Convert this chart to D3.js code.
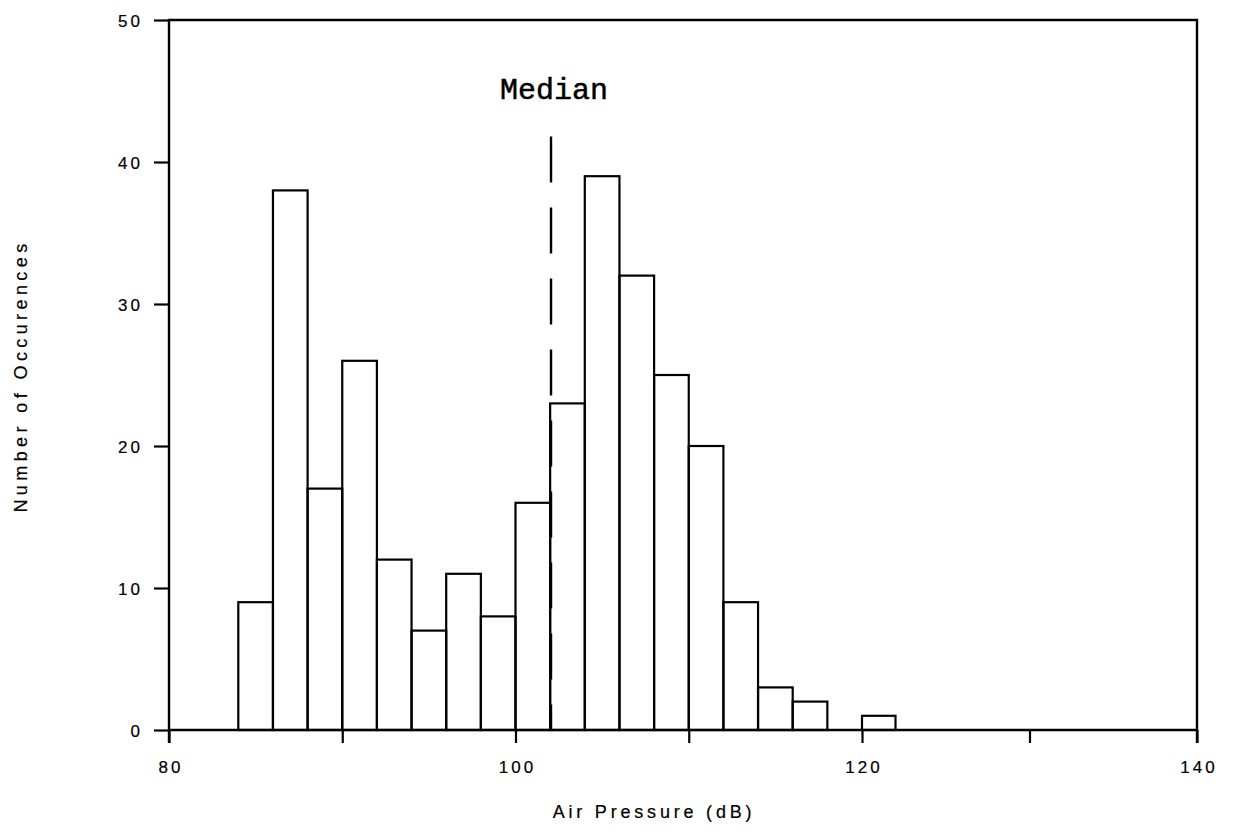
<!DOCTYPE html>
<html>
<head>
<meta charset="utf-8">
<script src="https://cdn.jsdelivr.net/npm/d3@7"></script>
<style>
  body { margin: 0; background: #fff; }
  svg { display: block; }
  text { font-family: "Liberation Sans", Arial, sans-serif; fill: #000; stroke: #000; stroke-width: 0.2px; }
</style>
</head>
<body>
<svg width="1237" height="834"></svg>
<script>
// histogram bins (dB), 2 dB wide
var binStarts = [84, 86, 88, 90, 92, 94, 96, 98, 100, 102, 104, 106, 108, 110, 112, 114, 116, 118, 120];
var counts    = [ 9, 38, 17, 26, 12,  7, 11,  8,  16,  23,  39,  32,  25,  20,   9,   3,   2,   0,   1];
var binWidth = 2;

var xTicks = [80, 90, 100, 110, 120, 130, 140];
var xLabels = [80, 100, 120, 140];
var yTicks = [0, 10, 20, 30, 40, 50];

var median = 102.05;
var medianTop = 41.8;

var svg = d3.select("svg");

// the scanned axis is a little squeezed past 120
var scaleX = d3.scaleLinear()
               .domain([80, 120, 140])
               .range([169, 862, 1197]);

var scaleY = d3.scaleLinear()
               .domain([0, 50])
               .range([730, 20]);

// bars
svg.append("g")
   .selectAll("rect")
   .data(binStarts.map(function(d, i) { return { x0: d, n: counts[i] }; }).filter(function(d) { return d.n > 0; }))
   .enter()
   .append("rect")
   .attr("x", function(d) { return scaleX(d.x0); })
   .attr("y", function(d) { return scaleY(d.n); })
   .attr("width", function(d) { return scaleX(d.x0 + binWidth) - scaleX(d.x0); })
   .attr("height", function(d) { return scaleY(0) - scaleY(d.n); })
   .attr("fill", "none")
   .attr("stroke", "#000")
   .attr("stroke-width", 2.2);

// x axis
var xAxis = svg.append("g")
   .attr("transform", "translate(0," + scaleY(0) + ")")
   .call(d3.axisBottom(scaleX)
           .tickValues(xTicks)
           .tickSizeInner(13)
           .tickSizeOuter(0)
           .tickFormat(function(d) { return xLabels.indexOf(d) >= 0 ? d : ""; }));
xAxis.select(".domain").remove();
xAxis.selectAll("line").attr("stroke-width", 2.2);
xAxis.selectAll("text")
     .attr("y", 43).attr("dy", 0)
     .attr("dx", 1.5)
     .attr("font-size", 17)
     .attr("letter-spacing", 3)
     .style("font-family", "Liberation Sans, Arial, sans-serif");

// y axis
var yAxis = svg.append("g")
   .attr("transform", "translate(" + scaleX(80) + ",0)")
   .call(d3.axisLeft(scaleY)
           .tickValues(yTicks)
           .tickSizeInner(15)
           .tickSizeOuter(0));
yAxis.select(".domain").remove();
yAxis.selectAll("line").attr("stroke-width", 2.2);
yAxis.selectAll("text")
     .attr("x", -26).attr("dy", "0.36em")
     .attr("font-size", 17)
     .attr("letter-spacing", 3)
     .style("font-family", "Liberation Sans, Arial, sans-serif");

// frame
var frame = d3.path();
frame.moveTo(scaleX(80), scaleY(0) + 13);
frame.lineTo(scaleX(80), scaleY(50));
frame.lineTo(scaleX(140), scaleY(50));
frame.lineTo(scaleX(140), scaleY(0) + 13);
frame.moveTo(scaleX(80), scaleY(0));
frame.lineTo(scaleX(140), scaleY(0));
svg.append("path")
   .attr("d", frame.toString())
   .attr("fill", "none")
   .attr("stroke", "#000")
   .attr("stroke-width", 2.4);

// median line
svg.append("line")
   .attr("x1", scaleX(median)).attr("x2", scaleX(median))
   .attr("y1", scaleY(medianTop)).attr("y2", scaleY(0))
   .attr("stroke", "#000")
   .attr("stroke-width", 2.4)
   .attr("stroke-dasharray", "46,25");

svg.append("text")
   .attr("x", 500)
   .attr("y", 99)
   .attr("font-size", 30)
   .style("stroke-width", "0.5px")
   .style("font-family", "Liberation Mono, Courier New, monospace")
   .text("Median");

// axis titles
svg.append("text")
   .attr("x", 654)
   .attr("y", 818)
   .attr("text-anchor", "middle")
   .attr("font-size", 18)
   .attr("letter-spacing", 3.8)
   .text("Air Pressure (dB)");

svg.append("text")
   .attr("transform", "rotate(270)")
   .attr("x", -376)
   .attr("y", 27)
   .attr("text-anchor", "middle")
   .attr("font-size", 18)
   .attr("letter-spacing", 4.4)
   .text("Number of Occurences");
</script>
</body>
</html>
